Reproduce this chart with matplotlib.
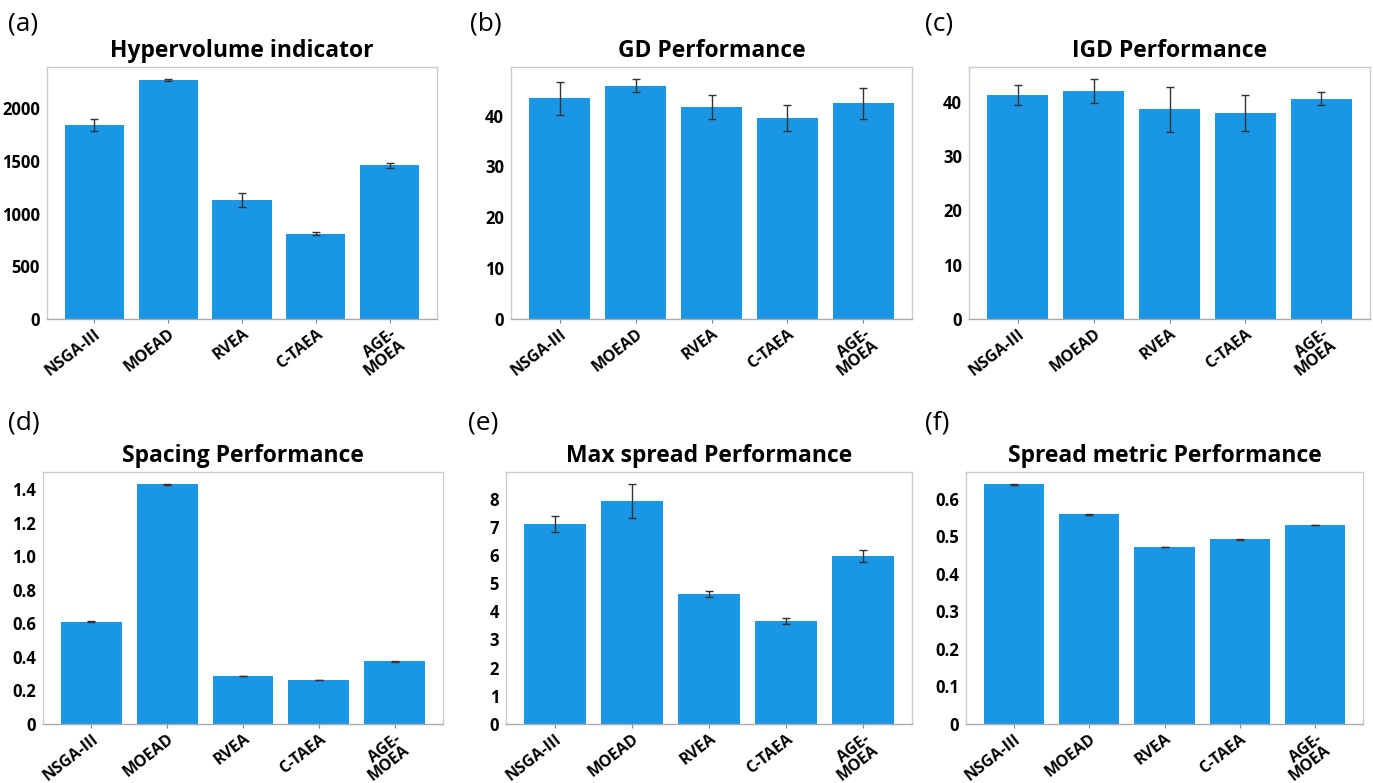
import matplotlib
matplotlib.use("Agg")
import matplotlib.pyplot as plt
from matplotlib.ticker import FuncFormatter

# ---- data
algorithms = ["NSGA-III", "MOEAD", "RVEA", "C-TAEA", "AGE-\nMOEA"]

hv_mean = [1845, 2270, 1130, 812, 1460]
hv_err = [55, 10, 70, 10, 25]

gd_mean = [43.4, 45.9, 41.7, 39.5, 42.4]
gd_err = [3.2, 1.3, 2.4, 2.5, 3.0]

igd_mean = [41.2, 42.0, 38.6, 38.0, 40.6]
igd_err = [1.85, 2.2, 4.1, 3.3, 1.2]

spacing_mean = [0.61, 1.428, 0.286, 0.262, 0.374]
spacing_err = [0.002, 0.002, 0.002, 0.002, 0.002]

maxspread_mean = [7.11, 7.92, 4.62, 3.65, 5.97]
maxspread_err = [0.29, 0.6, 0.1, 0.11, 0.21]

spread_mean = [0.639, 0.559, 0.472, 0.492, 0.530]
spread_err = [0.0008, 0.0008, 0.0008, 0.0008, 0.0008]

titles = [
    "Hypervolume indicator",
    "GD Performance",
    "IGD Performance",
    "Spacing Performance",
    "Max spread Performance",
    "Spread metric Performance",
]
panel_tags = ["(a)", "(b)", "(c)", "(d)", "(e)", "(f)"]
means = [hv_mean, gd_mean, igd_mean, spacing_mean, maxspread_mean, spread_mean]
errs = [hv_err, gd_err, igd_err, spacing_err, maxspread_err, spread_err]
# decimals on the y tick labels of each panel
y_decimals = [0, 0, 0, 1, 0, 1]

# ---- style
BAR_COLOR = "#1a96e6"
plt.rcParams["font.family"] = ["Open Sans", "DejaVu Sans"]

W, H = 1373, 783
fig = plt.figure(figsize=(W / 100, H / 100), dpi=100)

# axes boxes in pixels: left, right, top, bottom
boxes = [
    (47, 437, 67, 319),
    (511, 912, 67, 319),
    (969, 1370, 67, 319),
    (43, 443, 472, 724),
    (506, 912, 472, 724),
    (966, 1363, 472, 724),
]
tag_pos = [(8, 24), (470, 24), (925, 24), (8, 423), (468, 423), (925, 423)]


def make_fmt(dec):
    def f(v, p):
        if abs(v) < 1e-9:
            return "0"
        return "%.*f" % (dec, v)
    return FuncFormatter(f)


for i in range(6):
    l, r, t, b = boxes[i]
    ax = fig.add_axes([l / W, 1 - b / H, (r - l) / W, (b - t) / H])
    x = range(len(algorithms))
    ax.bar(x, means[i], width=0.8, color=BAR_COLOR, yerr=errs[i],
           capsize=3, error_kw=dict(ecolor="#333333", elinewidth=1, capthick=1))
    ax.set_title(titles[i], fontsize=16.5, fontweight="bold", pad=7)
    ax.set_xticks(list(x))
    ax.set_xticklabels(algorithms, rotation=38, ha="right", rotation_mode="anchor",
                       fontsize=11.5, fontweight="bold", linespacing=0.85)
    ax.yaxis.set_major_formatter(make_fmt(y_decimals[i]))
    for lab in ax.get_yticklabels():
        lab.set_fontweight("bold")
        lab.set_fontsize(12)
    ax.tick_params(axis="y", length=0, pad=5)
    ax.tick_params(axis="x", length=3, color="#888888", pad=2)
    for name, sp in ax.spines.items():
        sp.set_color("#cccccc")
        sp.set_linewidth(1)
    ax.spines["bottom"].set_color("#aaaaaa")
    fig.text(tag_pos[i][0] / W, 1 - tag_pos[i][1] / H, panel_tags[i],
             fontsize=19, va="center", ha="left")

fig.savefig("out.png", dpi=100)
